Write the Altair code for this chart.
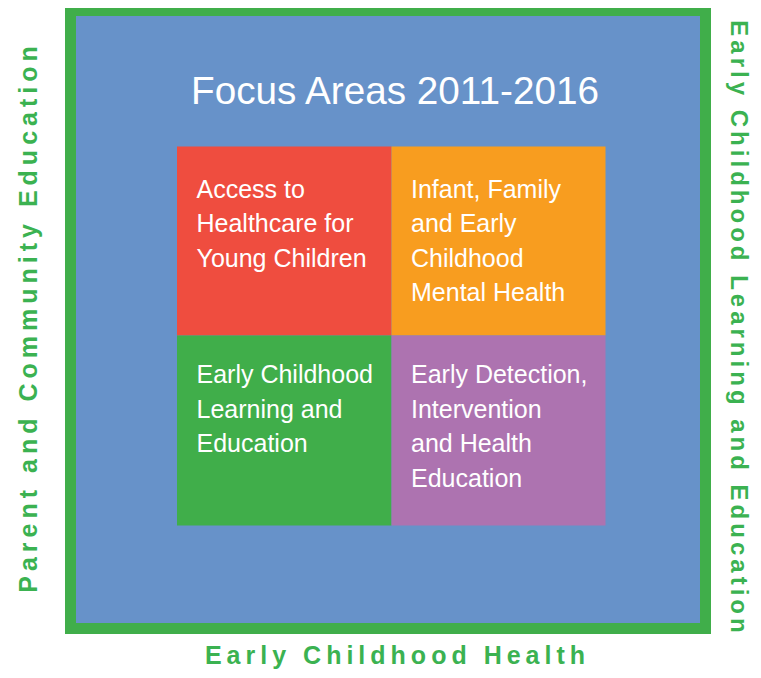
import altair as alt
import pandas as pd

# ---------------- data ----------------
title_text = "Focus Areas 2011-2016"

quadrant_names = [
    "Access to\nHealthcare for\nYoung Children",
    "Infant, Family\nand Early\nChildhood\nMental Health",
    "Early Childhood\nLearning and\nEducation",
    "Early Detection,\nIntervention\nand Health\nEducation",
]
quadrant_col = [0, 1, 0, 1]
quadrant_row = [0, 0, 1, 1]
quadrant_colors = ["#ef4d3f", "#f89d1f", "#40ae4a", "#ad73b0"]

label_left = "Parent and Community Education"
label_right = "Early Childhood Learning and Education"
label_bottom = "Early Childhood Health"

# ---------------- layout (reference pixel units) ----------------
GREEN = "#40ae4a"
BLUE = "#6792c9"
TEXT_GREEN = "#3bb251"
col_edges = [177, 391.5, 605.5]
row_edges = [146.5, 335.5, 525.5]
row_first_baseline = [197.5, 383]

X = alt.Scale(domain=[0, 761], range=[-8, 753])
Y = alt.Scale(domain=[0, 678], range=[-8, 670])


def tracked(s, gap="\u2009"):
    return gap.join(s)


frame = pd.DataFrame({
    "part": ["border", "field"],
    "x0": [65, 76], "x1": [711, 700],
    "y0": [5.5, 16], "y1": [634, 623],
    "color": [GREEN, BLUE],
})

quads = pd.DataFrame({
    "name": quadrant_names,
    "x0": [col_edges[c] for c in quadrant_col],
    "x1": [col_edges[c + 1] for c in quadrant_col],
    "y0": [row_edges[r] for r in quadrant_row],
    "y1": [row_edges[r + 1] for r in quadrant_row],
    "tx": [col_edges[c] + 19.5 for c in quadrant_col],
    "ty": [row_first_baseline[r] for r in quadrant_row],
    "color": quadrant_colors,
})

titles = pd.DataFrame({"text": [title_text], "x": [395], "y": [104]})
left_df = pd.DataFrame({"text": [tracked(label_left)], "x": [37], "y": [319.5]})
right_df = pd.DataFrame({"text": [tracked(label_right, "\u200a\u200a")], "x": [731], "y": [326.5]})
bottom_df = pd.DataFrame({"text": [tracked(label_bottom)], "x": [395], "y": [663.5]})

rects = alt.Chart(frame).mark_rect().encode(
    x=alt.X("x0:Q", scale=X, axis=None), x2="x1:Q",
    y=alt.Y("y0:Q", scale=Y, axis=None), y2="y1:Q",
    color=alt.Color("color:N", scale=None),
)

qrects = alt.Chart(quads).mark_rect().encode(
    x=alt.X("x0:Q", scale=X, axis=None), x2="x1:Q",
    y=alt.Y("y0:Q", scale=Y, axis=None), y2="y1:Q",
    color=alt.Color("color:N", scale=None),
)

qtext = alt.Chart(quads).mark_text(
    align="left", baseline="alphabetic", lineBreak="\n", lineHeight=34.5,
    font="Liberation Sans", fontSize=25, color="white",
).encode(
    x=alt.X("tx:Q", scale=X, axis=None),
    y=alt.Y("ty:Q", scale=Y, axis=None),
    text="name:N",
)

title = alt.Chart(titles).mark_text(
    align="center", baseline="alphabetic", font="Liberation Sans",
    fontSize=38.7, color="white",
).encode(
    x=alt.X("x:Q", scale=X, axis=None),
    y=alt.Y("y:Q", scale=Y, axis=None),
    text="text:N",
)

side_style = dict(baseline="alphabetic", align="center", font="Liberation Sans",
                  fontWeight="bold", color=TEXT_GREEN)

left = alt.Chart(left_df).mark_text(angle=270, fontSize=25, **side_style).encode(
    x=alt.X("x:Q", scale=X, axis=None), y=alt.Y("y:Q", scale=Y, axis=None), text="text:N")
right = alt.Chart(right_df).mark_text(angle=90, fontSize=24, **side_style).encode(
    x=alt.X("x:Q", scale=X, axis=None), y=alt.Y("y:Q", scale=Y, axis=None), text="text:N")
bottom = alt.Chart(bottom_df).mark_text(fontSize=25, **side_style).encode(
    x=alt.X("x:Q", scale=X, axis=None), y=alt.Y("y:Q", scale=Y, axis=None), text="text:N")

chart = alt.layer(rects, qrects, qtext, title, left, right, bottom).properties(
    width=745, height=662,
    autosize=alt.AutoSizeParams(type="none"),
    padding=0,
).configure_view(strokeWidth=0)

chart.save("out.html", embed_options={"renderer": "svg", "actions": False})
